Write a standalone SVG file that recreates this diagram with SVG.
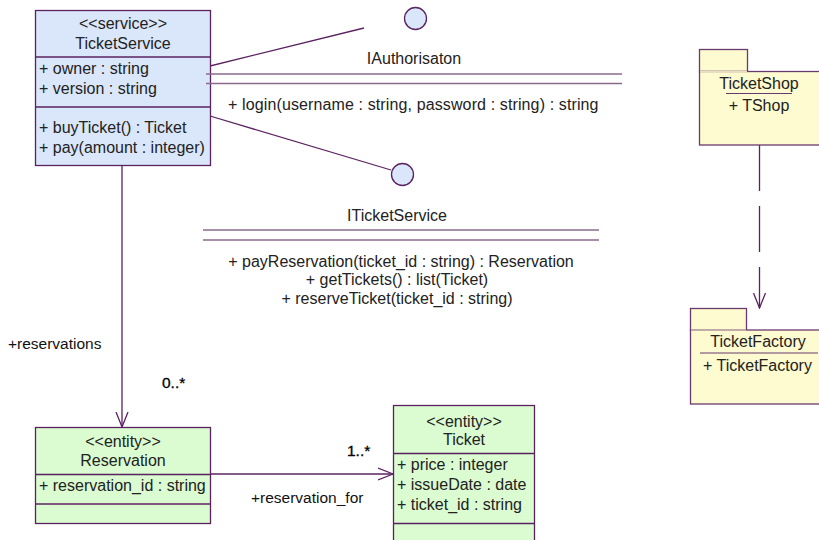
<svg xmlns="http://www.w3.org/2000/svg" width="819" height="540" viewBox="0 0 819 540">
<style>
text{font-family:"Liberation Sans",Arial,sans-serif;font-size:16px;fill:#222}
.c{text-anchor:middle}
.lbl{font-size:15.5px;fill:#111}
.mul{font-size:15.5px;fill:#000;stroke:#000;stroke-width:0.3}
.cls{stroke:#5a2360;stroke-width:1.3}
.svc{fill:#dae6fa}
.ent{fill:#dbfbd0}
.pkg{fill:#fdfbcf;stroke:#6a3a6e;stroke-width:1.3}
.ln{stroke:#5a2360;stroke-width:1.3;fill:none}
.if{stroke:#8a6a8c;stroke-width:1.5}
</style>
<defs>
<marker id="open" viewBox="0 0 16 14" refX="15" refY="7" markerWidth="16" markerHeight="14" markerUnits="userSpaceOnUse" orient="auto">
<path d="M0,1 L15,7 L0,13" fill="none" stroke="#5a2360" stroke-width="1.3"/>
</marker>
</defs>
<g id="connectors">
<line class="ln" x1="210" y1="66" x2="364" y2="28"/>
<line class="ln" x1="210" y1="116" x2="391" y2="170"/>
<line class="ln" x1="122" y1="166" x2="122" y2="427" marker-end="url(#open)"/>
<line class="ln" x1="210" y1="474" x2="393" y2="474" marker-end="url(#open)"/>
<line class="ln" x1="759.5" y1="145" x2="759.5" y2="308" stroke-dasharray="46 15" marker-end="url(#open)"/>
<text class="lbl" x="8" y="349">+reservations</text>
<text class="mul" x="162" y="388">0..*</text>
<text class="mul" x="347" y="456">1..*</text>
<text class="lbl" x="251" y="503">+reservation_for</text>
</g>
<g id="TicketService">
<rect class="cls svc" x="35.5" y="10.5" width="175" height="155"/>
<line class="cls" x1="35.5" y1="57" x2="210.5" y2="57"/>
<line class="cls" x1="35.5" y1="107" x2="210.5" y2="107"/>
<text class="c" x="123" y="29">&lt;&lt;service&gt;&gt;</text>
<text class="c" x="123" y="49">TicketService</text>
<text x="39" y="74">+ owner : string</text>
<text x="39" y="94">+ version : string</text>
<text x="39" y="133">+ buyTicket() : Ticket</text>
<text x="39" y="153">+ pay(amount : integer)</text>
</g>
<g id="IAuthorisaton">
<circle cx="415.5" cy="18.5" r="11" class="cls svc"/>
<line class="if" x1="206" y1="74" x2="622" y2="74"/>
<line class="if" x1="206" y1="83.5" x2="622" y2="83.5"/>
<text class="c" x="414" y="64">IAuthorisaton</text>
<text x="228" y="110" letter-spacing="0.12">+ login(username : string, password : string) : string</text>
</g>
<g id="ITicketService">
<circle cx="402.5" cy="174.5" r="11" class="cls svc"/>
<line class="if" x1="203" y1="230" x2="599" y2="230"/>
<line class="if" x1="203" y1="240" x2="599" y2="240"/>
<text class="c" x="397" y="221">ITicketService</text>
<text class="c" x="401" y="267">+ payReservation(ticket_id : string) : Reservation</text>
<text class="c" x="397" y="285">+ getTickets() : list(Ticket)</text>
<text class="c" x="397" y="304">+ reserveTicket(ticket_id : string)</text>
</g>
<g id="Reservation">
<rect class="cls ent" x="35.5" y="427.5" width="175" height="96"/>
<line class="cls" x1="35.5" y1="474.5" x2="210.5" y2="474.5"/>
<line class="cls" x1="35.5" y1="504" x2="210.5" y2="504"/>
<text class="c" x="123" y="447">&lt;&lt;entity&gt;&gt;</text>
<text class="c" x="123" y="466">Reservation</text>
<text x="39" y="491">+ reservation_id : string</text>
</g>
<g id="Ticket">
<rect class="cls ent" x="393.5" y="405.5" width="141" height="145"/>
<line class="cls" x1="393.5" y1="453.5" x2="534.5" y2="453.5"/>
<line class="cls" x1="393.5" y1="523.5" x2="534.5" y2="523.5"/>
<text class="c" x="464" y="427">&lt;&lt;entity&gt;&gt;</text>
<text class="c" x="464" y="445">Ticket</text>
<text x="397" y="470">+ price : integer</text>
<text x="397" y="490">+ issueDate : date</text>
<text x="397" y="510">+ ticket_id : string</text>
</g>
<g id="TicketShop">
<rect class="pkg" x="699.5" y="49.5" width="48" height="22"/>
<rect class="pkg" x="699.5" y="71.5" width="121" height="73.5"/>
<line x1="700" y1="71.5" x2="747" y2="71.5" stroke="#e8e0c0" stroke-width="1"/>
<text class="c" x="759" y="89">TicketShop</text>
<line x1="726" y1="93.5" x2="792" y2="93.5" stroke="#6a3a6e" stroke-width="1.2"/>
<text class="c" x="759" y="111">+ TShop</text>
</g>
<g id="TicketFactory">
<rect class="pkg" x="690.5" y="308.5" width="56" height="22"/>
<rect class="pkg" x="690.5" y="330" width="132" height="74"/>
<line x1="691" y1="330" x2="746" y2="330" stroke="#e8e0c0" stroke-width="1"/>
<text class="c" x="758" y="347">TicketFactory</text>
<line x1="700" y1="353" x2="818" y2="353" stroke="#6a3a6e" stroke-width="1.2"/>
<text x="703" y="371">+ TicketFactory</text>
</g>
</svg>
